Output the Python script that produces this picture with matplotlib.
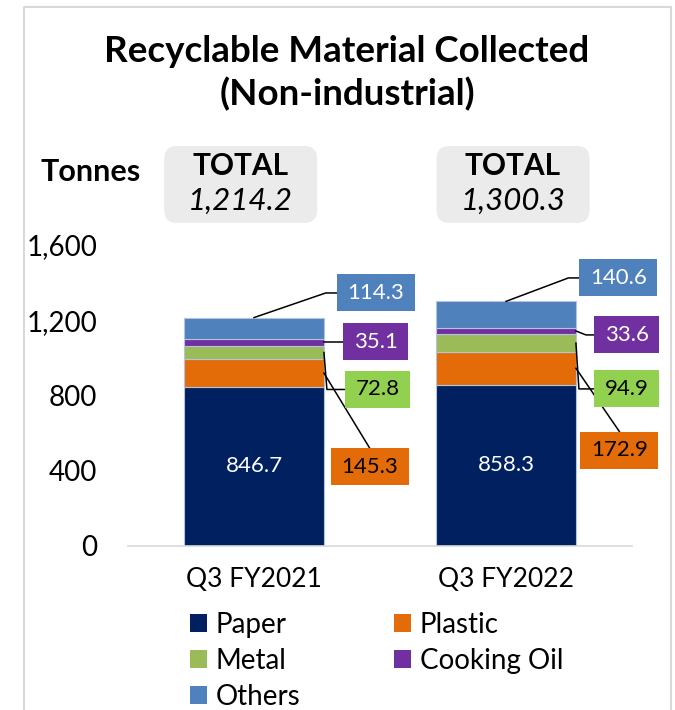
import matplotlib.pyplot as plt
from matplotlib.patches import FancyBboxPatch, Rectangle, Patch
from matplotlib.lines import Line2D

# Tonnes collected per quarter
periods = ['Q3 FY2021', 'Q3 FY2022']
materials = ['Paper', 'Plastic', 'Metal', 'Cooking Oil', 'Others']
paper = [846.7, 858.3]
plastic = [145.3, 172.9]
metal = [72.8, 94.9]
cooking_oil = [35.1, 33.6]
others = [114.3, 140.6]
totals = [1214.2, 1300.3]

y_ticks = [0, 400, 800, 1200, 1600]
y_tick_labels = ['0', '400', '800', '1,200', '1,600']

bar_colors = ['#002060', '#E36C09', '#9BBB59', '#7030A0', '#4F81BD']
box_colors = ['#002060', '#E36C09', '#92D050', '#7030A0', '#4F81BD']
box_text_colors = ['white', 'black', 'black', 'white', 'white']

# callout box centres (x offset from bar centre, y in tonnes) for
# plastic, metal, cooking oil, others
callout_dx = [[0.46, 0.49, 0.483, 0.483], [0.45, 0.48, 0.48, 0.446]]
callout_y = [[420, 832, 1087, 1345], [510, 835, 1122, 1425]]

plt.rcParams['font.family'] = ['Lato', 'DejaVu Sans']

W, H = 675, 710
fig = plt.figure(figsize=(W / 100, H / 100), dpi=100)
ax = fig.add_axes([128 / W, 1 - 546 / H, 504 / W, 301 / H])

series = [paper, plastic, metal, cooking_oil, others]
x = list(range(len(periods)))
width = 0.555
bottoms = [0.0] * len(periods)
seg_bottoms = []
for vals, col, name in zip(series, bar_colors, materials):
    ax.bar(x, vals, width, bottom=bottoms, color=col,
           edgecolor='#b4c3de', linewidth=0.8, label=name, zorder=2)
    seg_bottoms.append(list(bottoms))
    bottoms = [b + v for b, v in zip(bottoms, vals)]

ax.set_xlim(-0.5, 1.5)
ax.set_ylim(0, 1600)
ax.set_yticks(y_ticks, y_tick_labels)
ax.set_xticks(x, periods)
ax.tick_params(axis='y', length=0, pad=22, labelsize=20)
ax.tick_params(axis='x', length=0, pad=15, labelsize=19)
for s in ['top', 'right', 'left']:
    ax.spines[s].set_visible(False)
ax.spines['bottom'].set_color('#d9d9d9')
ax.spines['bottom'].set_linewidth(1.2)

# paper values sit inside the bars
for i in x:
    ax.text(i, paper[i] / 2, f'{paper[i]:.1f}', color='white',
            ha='center', va='center', fontsize=16, zorder=3)

# callout boxes with leader lines
px_x = 1 / 252.0       # data units per pixel along x
px_y = 1600 / 301.0    # data units per pixel along y
for i in x:
    right = i + width / 2
    for k in range(1, 5):
        val = series[k][i]
        mid = seg_bottoms[k][i] + val / 2
        label = f'{val:.1f}'
        bw = (13 * len(label) + 13) * px_x
        bh = 37 * px_y
        cx = i + callout_dx[i][k - 1]
        cy = callout_y[i][k - 1]
        left = cx - bw / 2
        ax.add_patch(Rectangle((left, cy - bh / 2), bw, bh,
                               facecolor=box_colors[k], edgecolor='none',
                               clip_on=False, zorder=4))
        ax.text(cx, cy, label, ha='center', va='center', fontsize=16,
                color=box_text_colors[k], clip_on=False, zorder=5)
        if k == 1:
            xs, ys = [right, cx], [mid, cy + bh / 2]
        elif k == 2:
            xs = [right, right + 3 * px_x, left]
            ys = [mid, cy, cy]
        elif k == 3:
            xs = [right, right + 10 * px_x * i, left]
            ys = [mid, cy, cy]
        else:
            xs = [i, left - 11 * px_x, left]
            ys = [bottoms[i], cy, cy]
        ax.add_line(Line2D(xs, ys, color='black', linewidth=1.1,
                           clip_on=False, zorder=3))

# total boxes above the bars
total_dx = [-0.053, 1.028]
for i in x:
    cx_px = ax.transData.transform((total_dx[i], 0))[0]
    box = FancyBboxPatch(((cx_px - 76.5) / 100, (H - 223) / 100), 1.53, 0.77,
                         boxstyle='round,pad=0,rounding_size=0.13',
                         transform=fig.dpi_scale_trans, facecolor='#ebebeb',
                         edgecolor='none')
    fig.patches.append(box)
    fig.text(cx_px / W, 1 - 166 / H, 'TOTAL', ha='center', va='center',
             fontsize=21.5, fontweight='bold')
    fig.text(cx_px / W, 1 - 201 / H, f'{totals[i]:,.1f}', ha='center',
             va='center', fontsize=22.5, style='italic')

fig.text(91 / W, 1 - 172 / H, 'Tonnes', ha='center', va='center',
         fontsize=22, fontweight='bold')
fig.text(347 / W, 1 - 73 / H, 'Recyclable Material Collected\n(Non-industrial)',
         ha='center', va='center', fontsize=26.5, fontweight='bold',
         linespacing=1.3)

# legend filled row by row: Paper, Plastic / Metal, Cooking Oil / Others
order = [0, 2, 4, 1, 3]
handles = [Patch(facecolor=bar_colors[j], label=materials[j]) for j in order]
fig.legend(handles=handles, ncol=2, loc='upper left',
           bbox_to_anchor=(190 / W, 1 - 612 / H), frameon=False,
           fontsize=20, handlelength=0.61, handleheight=0.61,
           handletextpad=0.3, labelspacing=0.36, columnspacing=3.4,
           borderpad=0, borderaxespad=0)

# light frame around the chart
frame = dict(color='#d9d9d9', linewidth=1.5)
fig.add_artist(Line2D([24 / W, 24 / W, 671 / W, 671 / W],
                      [0, 1 - 7 / H, 1 - 7 / H, 0], **frame))

fig.savefig('out.png', dpi=100)
